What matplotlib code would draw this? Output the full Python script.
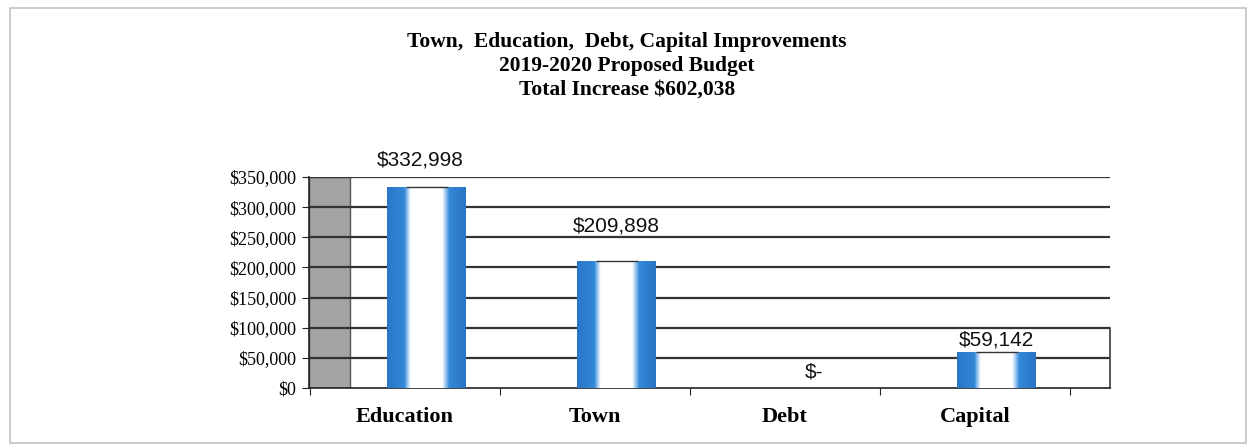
import matplotlib.pyplot as plt
import numpy as np
from matplotlib.colors import LinearSegmentedColormap
from matplotlib.patches import Rectangle

# Budget increase by area
categories = ['Education', 'Town', 'Debt', 'Capital']
increase = [332998, 209898, 0, 59142]
y_ticks = [0, 50000, 100000, 150000, 200000, 250000, 300000, 350000]
title_lines = ['Town,  Education,  Debt, Capital Improvements',
               '2019-2020 Proposed Budget',
               'Total Increase $602,038']

# label offsets above bar tops (pixels)
label_offsets = [(-6, 27), (0, 35), (8, 16), (0, 12)]

W, H = 1254, 445
fig = plt.figure(figsize=(W / 100, H / 100), dpi=100)
fig.patch.set_facecolor('white')

# outer frame
fig.patches.append(Rectangle((10 / W, 2 / H), 1236 / W, 435 / H, transform=fig.transFigure,
                             fill=False, edgecolor='#c4c4c4', linewidth=1.2))

# plot area in pixel coords
left, right, top, bottom = 309, 1110, 177, 388
ax = fig.add_axes([left / W, 1 - bottom / H, (right - left) / W, (bottom - top) / H])

step = 190.0
x0 = -(405 - left) / step
x1 = (right - 405) / step
ax.set_xlim(x0, x1)
ax.set_ylim(0, 350000)
depth = 41 / step

# side wall
ax.add_patch(Rectangle((x0, 0), depth, 350000, facecolor='#a3a3a3', edgecolor='#555555',
                       linewidth=1.0, zorder=1))

# gridlines
for t in y_ticks[1:]:
    ax.axhline(t, color='#333333', linewidth=1.6, zorder=2)
ax.plot([x1, x1], [0, 100000], color='#3c3c3c', linewidth=1.2, zorder=2, clip_on=False)

# cylinder-like shading across each bar
bar_cmap = LinearSegmentedColormap.from_list('cyl', [
    (0.0, '#2a76c6'), (0.22, '#3288d8'), (0.26, '#9cc8f0'), (0.30, '#ffffff'),
    (0.70, '#ffffff'), (0.75, '#8fc0ee'), (0.79, '#3288d8'), (1.0, '#2a74c4')])
grad = np.linspace(0, 1, 256).reshape(1, -1)

xs = np.arange(len(categories))
bar_shift = 21 / step
bar_w = 79 / step
bars = ax.bar(xs + bar_shift, increase, width=bar_w, color='none', zorder=3)
for b, v in zip(bars, increase):
    if v <= 0:
        continue
    bx, bw = b.get_x(), b.get_width()
    im = ax.imshow(grad, cmap=bar_cmap, aspect='auto', extent=(bx, bx + bw, 0, v),
                   zorder=3, interpolation='bilinear')
    im.set_clip_path(b)
    ax.hlines(v, bx + bw * 0.25, bx + bw * 0.78, color='#333333', linewidth=1.0, zorder=4)
ax.set_xlim(x0, x1)
ax.set_ylim(0, 350000)

# value labels
for xi, v, off in zip(xs, increase, label_offsets):
    txt = f'${v:,}' if v else '$-'
    ax.annotate(txt, (xi + bar_shift, v), xytext=off, textcoords='offset pixels',
                ha='center', va='center', fontsize=15, family='Liberation Sans',
                color='#111111', zorder=5, annotation_clip=False)

# axes styling
for s in ['top', 'right']:
    ax.spines[s].set_visible(False)
ax.spines['left'].set_color('#222222')
ax.spines['bottom'].set_color('#222222')
ax.spines['left'].set_linewidth(1.2)
ax.spines['bottom'].set_linewidth(1.2)
ax.set_yticks(y_ticks)
ax.set_yticklabels([f'${t:,}' for t in y_ticks], family='Liberation Serif', fontsize=13)
ax.set_xticks(np.arange(len(categories) + 1) - 0.5, minor=False)
ax.set_xticklabels([])
ax.set_xticks(xs, minor=True)
ax.set_xticklabels(categories, minor=True, family='Liberation Serif', fontweight='bold',
                   fontsize=16)
ax.tick_params(axis='x', which='minor', length=0, pad=14)
ax.tick_params(axis='x', which='major', length=5, direction='out', color='#222222')
ax.tick_params(axis='y', length=5, direction='out', color='#222222', pad=4)

fig.text(0.5, 1 - 66 / H, '\n'.join(title_lines), ha='center', va='center',
         family='Liberation Serif', fontweight='bold', fontsize=15.5, linespacing=1.25)

fig.savefig('out.png', dpi=100)
